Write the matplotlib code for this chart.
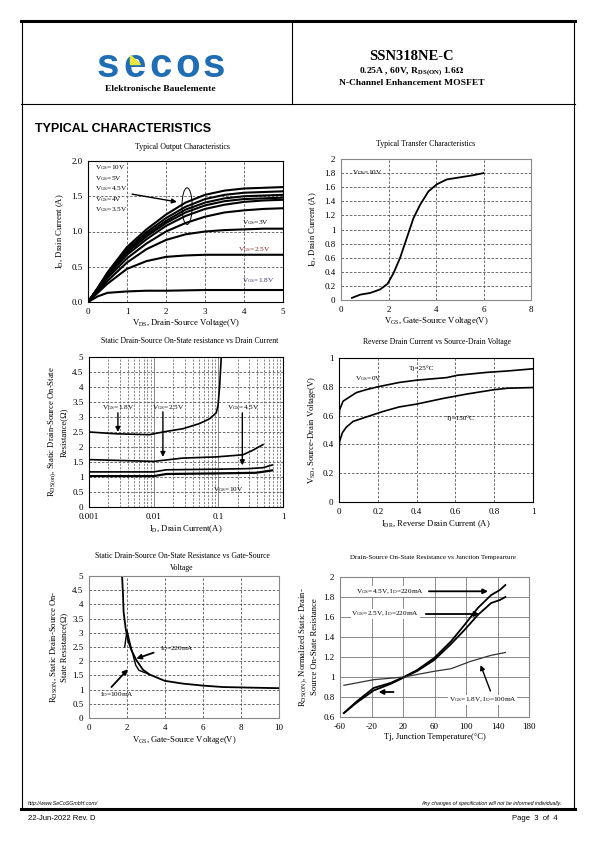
import matplotlib
matplotlib.use('Agg')
import matplotlib.pyplot as plt
from matplotlib.patches import Ellipse, Polygon
from matplotlib.lines import Line2D

plt.rcParams['font.family'] = ['Liberation Serif', 'DejaVu Serif']
plt.rcParams['mathtext.fontset'] = 'stix'
plt.rcParams['axes.unicode_minus'] = False

W, H = 595, 842

# ---- Typical Output Characteristics ----
vds = [0, 0.25, 0.5, 1, 1.5, 2, 2.5, 3, 3.5, 4, 4.5, 5]
id_10v = [0, 0.20, 0.42, 0.78, 1.03, 1.24, 1.41, 1.52, 1.58, 1.61, 1.62, 1.63]
id_5v = [0, 0.20, 0.41, 0.75, 0.99, 1.19, 1.35, 1.46, 1.52, 1.55, 1.56, 1.57]
id_45v = [0, 0.19, 0.40, 0.72, 0.96, 1.15, 1.31, 1.41, 1.47, 1.50, 1.51, 1.52]
id_4v = [0, 0.19, 0.39, 0.70, 0.93, 1.12, 1.27, 1.37, 1.43, 1.46, 1.47, 1.48]
id_35v = [0, 0.18, 0.37, 0.67, 0.89, 1.08, 1.22, 1.32, 1.38, 1.42, 1.44, 1.45]
id_x = [0, 0.17, 0.34, 0.62, 0.83, 1.00, 1.12, 1.21, 1.27, 1.30, 1.32, 1.33]
id_3v = [0, 0.15, 0.30, 0.56, 0.75, 0.88, 0.96, 1.00, 1.02, 1.03, 1.04, 1.04]
id_25v = [0, 0.13, 0.26, 0.47, 0.58, 0.64, 0.66, 0.67, 0.67, 0.67, 0.67, 0.67]
id_18v = [0, 0.08, 0.13, 0.15, 0.16, 0.16, 0.165, 0.17, 0.17, 0.17, 0.17, 0.17]
out_labels = ['10V', '5V', '4.5V', '4V', '3.5V']

# ---- Typical Transfer Characteristics ----
vgs_t = [0.46, 0.81, 1.23, 1.65, 1.96, 2.21, 2.49, 2.77, 3.05, 3.33, 3.68, 4.03, 4.45, 5.01, 5.57, 6.0]
id_t = [0.03, 0.076, 0.10, 0.15, 0.23, 0.38, 0.60, 0.88, 1.16, 1.35, 1.54, 1.64, 1.71, 1.74, 1.77, 1.80]

# ---- RDS(on) vs Drain Current ----
id_18 = [0.001, 0.00265, 0.0087, 0.01, 0.0157, 0.0284, 0.051, 0.073, 0.093, 0.099, 0.105, 0.111]
r_18 = [2.50, 2.44, 2.41, 2.44, 2.52, 2.61, 2.78, 2.94, 3.14, 3.39, 4.06, 5.0]
id_25 = [0.001, 0.01, 0.028, 0.093, 0.24, 0.34, 0.49]
r_25 = [1.58, 1.52, 1.63, 1.67, 1.74, 1.89, 2.08]
id_45 = [0.001, 0.01, 0.0157, 0.093, 0.30, 0.49, 0.68]
r_45 = [1.17, 1.17, 1.24, 1.26, 1.28, 1.31, 1.40]
id_10 = [0.001, 0.01, 0.0157, 0.093, 0.38, 0.68]
r_10 = [1.03, 1.03, 1.10, 1.12, 1.14, 1.22]

# ---- Reverse Drain Current vs Source-Drain Voltage ----
is_25 = [0, 0.003, 0.021, 0.055, 0.09, 0.14, 0.20, 0.31, 0.40, 0.556, 0.61, 0.76, 0.87, 1.0]
vsd_25 = [0.57, 0.64, 0.70, 0.73, 0.76, 0.78, 0.80, 0.83, 0.846, 0.864, 0.88, 0.90, 0.91, 0.925]
is_150 = [0, 0.003, 0.017, 0.038, 0.073, 0.14, 0.23, 0.31, 0.40, 0.54, 0.66, 0.80, 0.87, 1.0]
vsd_150 = [0.34, 0.42, 0.48, 0.52, 0.56, 0.59, 0.63, 0.66, 0.68, 0.72, 0.75, 0.78, 0.79, 0.795]

# ---- RDS(on) vs Gate-Source Voltage ----
vg_100 = [1.74, 1.79, 1.82, 1.93, 2.05, 2.23, 2.49, 2.84, 3.19, 3.98, 4.95, 6.0, 7.05, 8.46, 10]
r_100 = [5.0, 4.33, 3.74, 3.15, 2.74, 2.39, 2.04, 1.70, 1.53, 1.31, 1.21, 1.14, 1.09, 1.07, 1.05]
vg_220 = [1.88, 2.0, 2.14, 2.32, 2.46, 2.63, 3.19]
r_220 = [2.5, 3.09, 2.68, 2.21, 1.86, 1.68, 1.53]

# ---- Normalized RDS(on) vs Junction Temperature ----
tj = [-55, -38.6, -17.3, 4.0, 21, 38, 59.6, 81, 98, 115, 132, 143, 150]
rn_45 = [0.64, 0.757, 0.89, 0.94, 1.0, 1.07, 1.19, 1.357, 1.52, 1.69, 1.82, 1.87, 1.92]
rn_25 = [0.64, 0.745, 0.865, 0.93, 0.995, 1.06, 1.17, 1.33, 1.47, 1.62, 1.74, 1.77, 1.80]
tj_18 = [-55, -17.3, 21, 59.6, 81, 106, 132, 150]
rn_18 = [0.917, 0.973, 1.0, 1.057, 1.083, 1.157, 1.217, 1.245]

TICK = 6.5
LAB = 6.2
TIT = 5.6


def rect(x0, y0, x1, y1):
    return [x0 / W, 1 - y1 / H, (x1 - x0) / W, (y1 - y0) / H]


def style(ax, solid=False, spine='k'):
    ax.tick_params(length=0, labelsize=TICK, pad=4)
    for s in ax.spines.values():
        s.set_color(spine)
        s.set_linewidth(0.8)
    if solid:
        ax.grid(True, color='#777777', lw=0.6, ls='-')
    else:
        ax.grid(True, color='#555555', lw=0.6, ls=(0, (3, 2)))
    ax.set_axisbelow(True)


def arrow(ax, xy, xytext, lw=1.0):
    ax.annotate('', xy=xy, xytext=xytext,
                arrowprops=dict(arrowstyle='-|>', color='k', lw=lw, mutation_scale=7, shrinkA=0, shrinkB=0))


def sub(a, b):
    return a + r'$\mathregular{_{' + b + '}}$'


fig = plt.figure(figsize=(W / 100, H / 100), dpi=100)

# ---- page frame and header ----
def hline(y, x0, x1, lw):
    fig.add_artist(Line2D([x0 / W, x1 / W], [1 - y / H, 1 - y / H], color='k', lw=lw))


def vline(x, y0, y1, lw):
    fig.add_artist(Line2D([x / W, x / W], [1 - y0 / H, 1 - y1 / H], color='k', lw=lw))

hline(21, 21, 575, 2.2)
hline(104, 21, 575, 0.8)
hline(809, 21, 575, 2.2)
vline(22, 21, 809, 0.8)
vline(574, 21, 809, 0.8)
vline(292, 21, 104, 0.8)

for i, ch in enumerate('secos'):
    fig.text((108 + i * 26.5) / W, 1 - 66 / H, ch, ha='center', va='center', fontsize=29,
             fontweight='bold', color='#1f6db4', family='Liberation Sans')
fig.add_artist(Polygon([[130 / W, 1 - 55 / H], [130 / W, 1 - 64 / H], [140 / W, 1 - 64 / H]],
                       closed=True, color='#e8e83a', transform=fig.transFigure, zorder=5))
fig.text(160 / W, 1 - 89 / H, 'Elektronische Bauelemente', ha='center', va='center',
         fontsize=6.8, fontweight='bold')
fig.text(412 / W, 1 - 56 / H, 'SSN318NE-C', ha='center', va='center', fontsize=10.5, fontweight='bold')
fig.text(412 / W, 1 - 72 / H, r'0.25A , 60V, R$\mathregular{_{DS(ON)}}$ 1.6$\mathbf{\Omega}$',
         ha='center', va='center', fontsize=6.8, fontweight='bold')
fig.text(412 / W, 1 - 83 / H, 'N-Channel Enhancement MOSFET', ha='center', va='center',
         fontsize=6.8, fontweight='bold')
fig.text(35 / W, 1 - 129 / H, 'TYPICAL CHARACTERISTICS', ha='left', va='center',
         fontsize=9, fontweight='bold', family='Liberation Sans')

fig.text(28 / W, 1 - 803 / H, 'http://www.SeCoSGmbH.com/', ha='left', va='center',
         fontsize=3.8, style='italic', family='Liberation Sans')
fig.text(562 / W, 1 - 803 / H, 'Any changes of specification will not be informed individually.',
         ha='right', va='center', fontsize=3.8, style='italic', family='Liberation Sans')
fig.text(28 / W, 1 - 818 / H, '22-Jun-2022 Rev. D', ha='left', va='center', fontsize=5.5,
         family='Liberation Sans')
fig.text(558 / W, 1 - 818 / H, 'Page  3  of  4', ha='right', va='center', fontsize=5.5,
         family='Liberation Sans')

# ---- 1: output characteristics ----
ax1 = fig.add_axes(rect(88, 161, 283, 302))
for y in [id_10v, id_5v, id_45v, id_4v, id_35v, id_x, id_3v, id_25v, id_18v]:
    ax1.plot(vds, y, color='k', lw=1.5)
ax1.set_xlim(0, 5)
ax1.set_ylim(0, 2)
ax1.set_xticks([0, 1, 2, 3, 4, 5])
ax1.set_yticks([0, 0.5, 1.0, 1.5, 2.0])
ax1.set_yticklabels(['0.0', '0.5', '1.0', '1.5', '2.0'])
style(ax1)
for i, lab in enumerate(out_labels):
    ax1.text(0.19, 1.905 - i * 0.15, sub('V', 'GS') + '=' + lab, fontsize=5.2, va='center')
arrow(ax1, (2.28, 1.42), (1.13, 1.53))
ax1.add_patch(Ellipse((2.54, 1.36), 0.26, 0.52, fill=False, lw=0.7, color='k'))
ax1.text(3.95, 1.13, sub('V', 'GS') + '=3V', fontsize=5.2, va='center')
ax1.text(3.85, 0.75, sub('V', 'GS') + '=2.5V', fontsize=5.2, va='center', color='#7a2020')
ax1.text(3.95, 0.30, sub('V', 'GS') + '=1.8V', fontsize=5.2, va='center', color='#3a2a6a')
ax1.set_xlabel(sub('V', 'DS') + ', Drain-Source Voltage(V)', fontsize=LAB, labelpad=1)
ax1.set_ylabel(sub('I', 'D') + ', Drain Current (A)', fontsize=LAB, labelpad=4)
fig.text(182 / W, 1 - 147 / H, 'Typical Output Characteristics', ha='center', va='center', fontsize=TIT)

# ---- 2: transfer characteristics ----
ax2 = fig.add_axes(rect(341, 159, 531, 300))
ax2.plot(vgs_t, id_t, color='k', lw=1.3)
ax2.set_xlim(0, 8)
ax2.set_ylim(0, 2)
ax2.set_xticks([0, 2, 4, 6, 8])
ax2.set_yticks([0, 0.2, 0.4, 0.6, 0.8, 1.0, 1.2, 1.4, 1.6, 1.8, 2.0])
ax2.set_yticklabels(['0', '0.2', '0.4', '0.6', '0.8', '1', '1.2', '1.4', '1.6', '1.8', '2'])
style(ax2, spine='#888888')
ax2.text(0.46, 1.81, sub('V', 'DS') + '=10V', fontsize=5.2, va='center')
ax2.set_xlabel(sub('V', 'GS') + ', Gate-Source Voltage(V)', fontsize=LAB, labelpad=1)
ax2.set_ylabel(sub('I', 'D') + ', Drain Current (A)', fontsize=LAB, labelpad=4)
fig.text(426 / W, 1 - 144 / H, 'Typical Transfer Characteristics', ha='center', va='center', fontsize=TIT)

# ---- 3: RDS(on) vs drain current ----
ax3 = fig.add_axes(rect(89, 357, 283, 507))
ax3.set_xscale('log')
ax3.plot(id_18, r_18, color='k', lw=1.2)
ax3.plot(id_25, r_25, color='k', lw=1.2)
ax3.plot(id_45, r_45, color='k', lw=1.2)
ax3.plot(id_10, r_10, color='k', lw=1.6)
ax3.set_xlim(0.001, 1)
ax3.set_ylim(0, 5)
ax3.set_xticks([0.001, 0.01, 0.1, 1])
ax3.set_xticklabels(['0.001', '0.01', '0.1', '1'])
ax3.set_yticks([0, 0.5, 1, 1.5, 2, 2.5, 3, 3.5, 4, 4.5, 5])
ax3.set_yticklabels(['0', '0.5', '1', '1.5', '2', '2.5', '3', '3.5', '4', '4.5', '5'])
style(ax3)
ax3.tick_params(which='minor', length=0)
ax3.grid(True, which='minor', axis='x', color='#555555', lw=0.5, ls=(0, (3, 2)))
ax3.grid(True, which='major', axis='x', color='#888888', lw=0.7, ls='-')
ax3.text(0.0028, 3.31, sub('V', 'GS') + '=1.8V', fontsize=5.2, ha='center', va='center')
ax3.text(0.0166, 3.31, sub('V', 'GS') + '=2.5V', fontsize=5.2, ha='center', va='center')
ax3.text(0.24, 3.31, sub('V', 'GS') + '=4.5V', fontsize=5.2, ha='center', va='center')
ax3.text(0.14, 0.59, sub('V', 'GS') + '=10V', fontsize=5.2, ha='center', va='center')
arrow(ax3, (0.0028, 2.5), (0.0028, 3.14))
arrow(ax3, (0.0139, 1.67), (0.0139, 3.17))
arrow(ax3, (0.235, 1.39), (0.235, 3.14))
ax3.set_xlabel(sub('I', 'D') + ', Drain Current(A)', fontsize=LAB, labelpad=2)
ax3.set_ylabel(sub('R', 'DS(on)') + ', Static Drain-Source On-State\nResistance(\u03a9)', fontsize=LAB, labelpad=3)
fig.text(190 / W, 1 - 341 / H, 'Static Drain-Source On-State resistance vs Drain Current',
         ha='center', va='center', fontsize=TIT)

# ---- 4: reverse drain current ----
ax4 = fig.add_axes(rect(339, 358, 533, 502))
ax4.plot(is_25, vsd_25, color='k', lw=1.2)
ax4.plot(is_150, vsd_150, color='k', lw=1.2)
ax4.set_xlim(0, 1)
ax4.set_ylim(0, 1)
ticks4 = [0, 0.2, 0.4, 0.6, 0.8, 1.0]
lab4 = ['0', '0.2', '0.4', '0.6', '0.8', '1']
ax4.set_xticks(ticks4)
ax4.set_xticklabels(lab4)
ax4.set_yticks(ticks4)
ax4.set_yticklabels(lab4)
style(ax4)
ax4.text(0.08, 0.86, sub('V', 'GS') + '=0V', fontsize=5.2, va='center')
ax4.text(0.36, 0.93, 'Tj=25\u00b0C', fontsize=5.2, va='center')
ax4.text(0.55, 0.58, 'Tj=150\u00b0C', fontsize=5.2, va='center')
ax4.set_xlabel(sub('I', 'DR') + ', Reverse Drain Current (A)', fontsize=LAB, labelpad=2)
ax4.set_ylabel(sub('V', 'SD') + ', Source-Drain Voltage(V)', fontsize=LAB, labelpad=3)
fig.text(437 / W, 1 - 342 / H, 'Reverse Drain Current vs Source-Drain Voltage',
         ha='center', va='center', fontsize=TIT)

# ---- 5: RDS(on) vs gate-source voltage ----
ax5 = fig.add_axes(rect(89, 576, 279, 718))
ax5.plot(vg_100, r_100, color='k', lw=1.3)
ax5.plot(vg_220, r_220, color='k', lw=1.0)
ax5.set_xlim(0, 10)
ax5.set_ylim(0, 5)
ax5.set_xticks([0, 2, 4, 6, 8, 10])
ax5.set_yticks([0, 0.5, 1, 1.5, 2, 2.5, 3, 3.5, 4, 4.5, 5])
ax5.set_yticklabels(['0', '0.5', '1', '1.5', '2', '2.5', '3', '3.5', '4', '4.5', '5'])
style(ax5, spine='#888888')
ax5.text(3.72, 2.45, sub('I', 'D') + '=220mA', fontsize=5.2, va='center')
arrow(ax5, (2.49, 2.09), (3.4, 2.3), lw=1.3)
ax5.text(0.6, 0.84, sub('I', 'D') + '=100mA', fontsize=5.2, va='center')
arrow(ax5, (2.05, 1.72), (1.18, 1.09), lw=1.3)
ax5.set_xlabel(sub('V', 'GS') + ', Gate-Source Voltage(V)', fontsize=LAB, labelpad=2)
ax5.set_ylabel(sub('R', 'DSON') + ', Static Drain-Source On-\nState Resistance(\u03a9)', fontsize=LAB, labelpad=3)
fig.text(182 / W, 1 - 562 / H, 'Static Drain-Source On-State Resistance vs Gate-Source\nVoltage',
         ha='center', va='center', fontsize=TIT, linespacing=1.5)

# ---- 6: normalized RDS(on) vs Tj ----
ax6 = fig.add_axes(rect(340, 577, 529, 717))
ax6.plot(tj, rn_45, color='k', lw=1.3)
ax6.plot(tj, rn_25, color='k', lw=1.3)
ax6.plot(tj_18, rn_18, color='#333333', lw=0.9)
ax6.set_xlim(-60, 180)
ax6.set_ylim(0.6, 2.0)
ax6.set_xticks([-60, -20, 20, 60, 100, 140, 180])
ax6.set_yticks([0.6, 0.8, 1.0, 1.2, 1.4, 1.6, 1.8, 2.0])
ax6.set_yticklabels(['0.6', '0.8', '1', '1.2', '1.4', '1.6', '1.8', '2'])
style(ax6, solid=True, spine='#888888')
ax6.text(3.2, 1.855, sub('V', 'GS') + '=4.5V, ' + sub('I', 'D') + '=220mA', fontsize=5.2,
         ha='center', va='center', bbox=dict(fc='white', ec='none', pad=0.5))
ax6.text(-2.4, 1.63, sub('V', 'GS') + '=2.5V, ' + sub('I', 'D') + '=220mA', fontsize=5.2,
         ha='center', va='center', bbox=dict(fc='white', ec='none', pad=0.5))
ax6.text(121, 0.77, sub('V', 'GS') + '=1.8V, ' + sub('I', 'D') + '=100mA', fontsize=5.2,
         ha='center', va='center', bbox=dict(fc='white', ec='none', pad=0.5))
arrow(ax6, (128, 1.857), (53, 1.857), lw=1.3)
arrow(ax6, (117, 1.63), (49, 1.63), lw=1.3)
arrow(ax6, (-11, 0.85), (8, 0.85), lw=1.3)
arrow(ax6, (118.5, 1.12), (131, 0.86), lw=1.0)
ax6.set_xlabel('Tj, Junction Temperature(\u00b0C)', fontsize=LAB, labelpad=2)
ax6.set_ylabel(sub('R', 'DS(ON)') + ', Normalized Static Drain-\nSource On-State Resistance',
               fontsize=LAB, labelpad=3)
fig.text(433 / W, 1 - 557 / H, 'Drain-Source On-State Resistance vs Junction Tempearture',
         ha='center', va='center', fontsize=5.0)

fig.savefig('out.png', dpi=100)
